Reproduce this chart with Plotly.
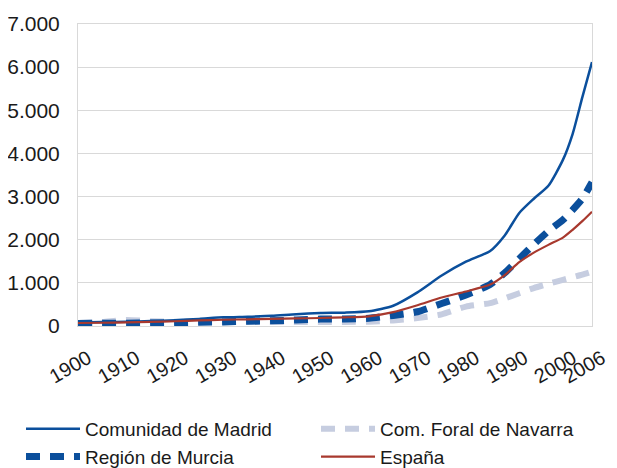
import plotly.graph_objects as go

years = [1900, 1905, 1910, 1915, 1920, 1925, 1930, 1935, 1940, 1945, 1950, 1955, 1960,
         1965, 1970, 1975, 1980, 1985, 1988, 1991, 1994, 1997, 2000, 2002, 2004, 2006]

madrid = [80, 90, 100, 115, 135, 165, 200, 215, 235, 275, 300, 310, 340,
          470, 780, 1170, 1490, 1740, 2100, 2620, 2950, 3250, 3850, 4450, 5300, 6120]
murcia = [60, 62, 65, 70, 75, 85, 95, 110, 120, 140, 160, 160, 180,
          245, 330, 520, 720, 960, 1230, 1560, 1890, 2200, 2460, 2690, 2950, 3330]
navarra = [70, 95, 140, 110, 100, 100, 100, 100, 95, 95, 95, 95, 100,
           130, 185, 270, 450, 530, 640, 760, 880, 980, 1070, 1130, 1190, 1260]
espana = [70, 75, 85, 95, 110, 130, 145, 155, 165, 175, 185, 200, 225,
          320, 480, 660, 800, 960, 1180, 1480, 1700, 1880, 2050, 2230, 2430, 2650]

tick_years = [1900, 1910, 1920, 1930, 1940, 1950, 1960, 1970, 1980, 1990, 2000, 2006]
y_ticks = [0, 1000, 2000, 3000, 4000, 5000, 6000, 7000]

FONT = "Liberation Sans, Arial, sans-serif"
W, H = 609, 460  # page body has an 8px margin

fig = go.Figure()
fig.add_trace(go.Scatter(x=years, y=navarra, name="Com. Foral de Navarra", mode="lines",
                         legend="legend2", legendrank=1,
                         line=dict(color="#C6CDE0", width=6, dash="14px,10px", shape="spline", smoothing=0.6)))
fig.add_trace(go.Scatter(x=years, y=murcia, name="Región de Murcia", mode="lines",
                         legend="legend", legendrank=2,
                         line=dict(color="#0B4F9C", width=7, dash="14px,10px", shape="spline", smoothing=0.6)))
fig.add_trace(go.Scatter(x=years, y=madrid, name="Comunidad de Madrid", mode="lines",
                         legend="legend", legendrank=1,
                         line=dict(color="#0B4F9C", width=2.5, shape="spline", smoothing=0.6)))
fig.add_trace(go.Scatter(x=years, y=espana, name="España", mode="lines",
                         legend="legend2", legendrank=2,
                         line=dict(color="#A8392E", width=2.2, shape="spline", smoothing=0.6)))

legend_common = dict(
    orientation="v", xref="container", yref="container",
    y=1 - 402 / H, xanchor="left", yanchor="top",
    font=dict(family=FONT, size=19, color="#1a1a1a"),
    itemwidth=54, traceorder="normal", tracegroupgap=0,
    bgcolor="rgba(0,0,0,0)",
)

fig.update_layout(
    width=W, height=H,
    margin=dict(l=70, r=25, t=16, b=142, autoexpand=False),
    paper_bgcolor="white", plot_bgcolor="white",
    separators=",.",
    font=dict(family=FONT, size=20, color="#1a1a1a"),
    showlegend=True,
    legend=dict(x=13 / W, **legend_common),
    legend2=dict(x=308 / W, **legend_common),
)
fig.update_xaxes(
    range=[1900, 2006], tickvals=tick_years, tickangle=-30, automargin=False,
    showgrid=False, zeroline=False,
    showline=True, linecolor="#D9D9D9", linewidth=1, mirror=True,
    ticks="", ticklabelstandoff=12, ticklabelshift=10,
    tickfont=dict(family=FONT, size=20, color="#1a1a1a"),
)
fig.update_yaxes(
    range=[0, 7000], tickvals=y_ticks, tickformat=",d", automargin=False,
    showgrid=True, gridcolor="#D9D9D9", gridwidth=1, zeroline=False,
    showline=True, linecolor="#D9D9D9", linewidth=1, mirror=True,
    ticks="", ticklabelstandoff=13,
    tickfont=dict(family=FONT, size=21, color="#1a1a1a"),
)

fig.write_html("out.html")
